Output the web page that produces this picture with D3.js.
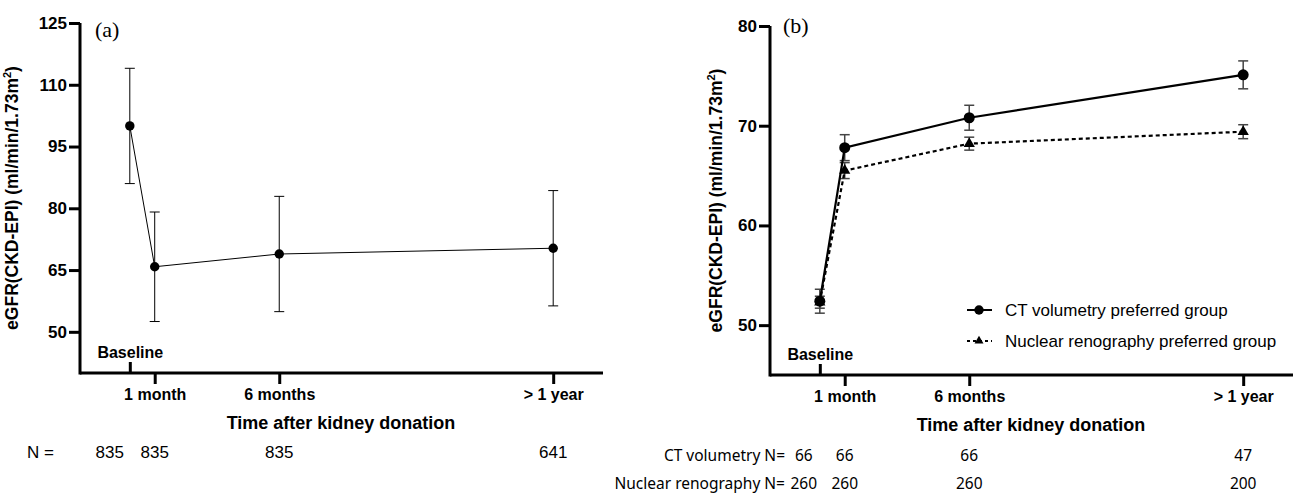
<!DOCTYPE html>
<html>
<head>
<meta charset="utf-8">
<script src="https://cdn.jsdelivr.net/npm/d3@7"></script>
<style>
  body { margin: 0; background: #fff; }
  svg { display: block; }
  text { font-family: "Liberation Sans", Arial, sans-serif; }
</style>
</head>
<body>
<svg id="chart" width="1304" height="495"></svg>
<script>
// time points (months after donation, "> 1 year" drawn at 17)
var timeLabels = ["Baseline", "1 month", "6 months", "> 1 year"];
var timeMonths = [0, 1, 6, 17];

// panel (a): all donors
var allMean = [100, 65.8, 68.9, 70.3];
var allErr = [14, 13.3, 14, 14];
var allN = [835, 835, 835, 641];

// panel (b): by preferred method
var ctMean = [52.4, 67.8, 70.8, 75.1];
var ctErr = [1.2, 1.3, 1.25, 1.4];
var ctN = [66, 66, 66, 47];
var nucMean = [52.3, 65.5, 68.2, 69.4];
var nucErr = [0.6, 0.8, 0.65, 0.7];
var nucN = [260, 260, 260, 200];

var ticksA = [50, 65, 80, 95, 110, 125];
var ticksB = [50, 60, 70, 80];

var svg = d3.select("#chart");

function makePanel(g, left, yDomain, yTicks, top, bottom, titleOff) {
    var x = d3.scaleLinear().domain([-2, 19]).range([left, left + 523]);
    var y = d3.scaleLinear().domain(yDomain).range([bottom, top]);

    var yAxis = g.append("g").attr("transform", "translate(" + left + ",0)")
        .call(d3.axisLeft(y).tickValues(yTicks).tickSize(11).tickSizeOuter(0).tickPadding(2));
    var xAxis = g.append("g").attr("transform", "translate(0," + bottom + ")")
        .call(d3.axisBottom(x).tickValues(timeMonths.slice(1)).tickSize(11).tickSizeOuter(0).tickPadding(5)
            .tickFormat(function (d) { return timeLabels[timeMonths.indexOf(d)]; }));
    var xBase = g.append("g").attr("transform", "translate(0," + bottom + ")")
        .call(d3.axisTop(x).tickValues([0]).tickSize(11).tickPadding(4)
            .tickFormat(function () { return timeLabels[0]; }));
    xBase.select(".domain").remove();

    [yAxis, xAxis, xBase].forEach(function (a) {
        a.selectAll("path,line").attr("stroke", "#000").attr("stroke-width", 3);
        a.selectAll("text").attr("fill", "#000").style("font-weight", "bold")
            .style("font-family", "'Liberation Sans', Arial, sans-serif");
    });
    yAxis.selectAll("text").style("font-size", "17px");
    xAxis.selectAll("text").style("font-size", "16px");
    xBase.selectAll("text").style("font-size", "16px");
    // axis lines meet at the corner
    yAxis.select(".domain").attr("d", "M0," + (bottom + 1.5) + "V" + top);
    xAxis.select(".domain").attr("d", "M" + left + ",0H" + (left + 523));

    g.append("text").attr("x", left + 261).attr("y", bottom + 56)
        .attr("text-anchor", "middle").style("font-size", "18px").style("font-weight", "bold")
        .text("Time after kidney donation");

    var yt = g.append("text").attr("transform", "translate(" + (left - titleOff) + "," + ((top + bottom) / 2) + ") rotate(-90)")
        .attr("text-anchor", "middle").style("font-size", "17.5px").style("font-weight", "bold");
    yt.append("tspan").text("eGFR(CKD-EPI) (ml/min/1.73m");
    yt.append("tspan").attr("dy", -7).style("font-size", "11px").text("2");
    yt.append("tspan").attr("dy", 7).text(")");

    return { x: x, y: y };
}

function drawSeries(g, sc, mean, err, opt) {
    var pts = timeMonths.map(function (m, i) { return { m: m, v: mean[i], e: err[i] }; });
    var line = d3.line().x(function (d) { return sc.x(d.m); }).y(function (d) { return sc.y(d.v); });
    var eb = g.append("g").attr("stroke", opt.errColor).attr("stroke-width", opt.errWidth).attr("fill", "none");
    pts.forEach(function (d) {
        var cx = sc.x(d.m);
        eb.append("line").attr("x1", cx).attr("x2", cx).attr("y1", sc.y(d.v + d.e)).attr("y2", sc.y(d.v - d.e));
        eb.append("line").attr("x1", cx - 5).attr("x2", cx + 5).attr("y1", sc.y(d.v + d.e)).attr("y2", sc.y(d.v + d.e));
        eb.append("line").attr("x1", cx - 5).attr("x2", cx + 5).attr("y1", sc.y(d.v - d.e)).attr("y2", sc.y(d.v - d.e));
    });
    g.append("path").datum(pts).attr("d", line).attr("fill", "none").attr("stroke", "#000")
        .attr("stroke-width", opt.lineWidth).attr("stroke-dasharray", opt.dash || null);
    g.selectAll(null).data(pts).enter().append("path")
        .attr("transform", function (d) { return "translate(" + sc.x(d.m) + "," + sc.y(d.v) + ")"; })
        .attr("d", d3.symbol().type(opt.symbol).size(opt.size))
        .attr("fill", "#000");
}

// ---- panel (a)
var gA = svg.append("g");
var scA = makePanel(gA, 80, [40, 125], ticksA, 23, 373, 62);
drawSeries(gA, scA, allMean, allErr, { errColor: "#000", errWidth: 1, lineWidth: 1, symbol: d3.symbolCircle, size: 70 });
gA.append("text").attr("x", 95).attr("y", 37).style("font-family", "'Liberation Serif', 'Times New Roman', serif")
    .style("font-size", "22px").text("(a)");
gA.append("text").attr("x", 27).attr("y", 458).style("font-size", "17px").text("N =");
gA.selectAll(null).data(allN).enter().append("text")
    .attr("x", function (d, i) { return scA.x(timeMonths[i]) + (i == 0 ? -20 : 0); })
    .attr("y", 458).attr("text-anchor", "middle").style("font-size", "17px")
    .text(function (d) { return d; });

// ---- panel (b)
var gB = svg.append("g");
var scB = makePanel(gB, 770, [45, 80], ticksB, 26, 375, 48);
drawSeries(gB, scB, nucMean, nucErr, { errColor: "#444", errWidth: 1.5, lineWidth: 2.2, dash: "4,3", symbol: d3.symbolTriangle, size: 55 });
drawSeries(gB, scB, ctMean, ctErr, { errColor: "#444", errWidth: 1.5, lineWidth: 2.2, symbol: d3.symbolCircle, size: 95 });
gB.append("text").attr("x", 783).attr("y", 33).style("font-family", "'Liberation Serif', 'Times New Roman', serif")
    .style("font-size", "22px").text("(b)");

// legend
var legend = [
    { name: "CT volumetry preferred group", dash: null, symbol: d3.symbolCircle, size: 70 },
    { name: "Nuclear renography preferred group", dash: "3,3", symbol: d3.symbolTriangle, size: 35 }
];
legend.forEach(function (l, i) {
    var ly = 310 + i * 31;
    gB.append("line").attr("x1", 967).attr("x2", 992).attr("y1", ly).attr("y2", ly)
        .attr("stroke", "#000").attr("stroke-width", 2).attr("stroke-dasharray", l.dash);
    gB.append("path").attr("transform", "translate(979," + ly + ")")
        .attr("d", d3.symbol().type(l.symbol).size(l.size)).attr("fill", "#000");
    gB.append("text").attr("x", 1005).attr("y", ly + 6).style("font-size", "17px").text(l.name);
});

// N rows
var nRows = [
    { label: "CT volumetry N=", vals: ctN, y: 461 },
    { label: "Nuclear renography N=", vals: nucN, y: 489 }
];
nRows.forEach(function (r) {
    gB.append("text").attr("x", 785).attr("y", r.y).attr("text-anchor", "end")
        .style("font-family", "'Noto Sans', sans-serif").style("font-size", "15.5px").text(r.label);
    gB.selectAll(null).data(r.vals).enter().append("text")
        .attr("x", function (d, i) { return scB.x(timeMonths[i]) + (i == 0 ? -16 : 0); })
        .attr("y", r.y).attr("text-anchor", "middle")
        .style("font-family", "'Noto Sans', sans-serif").style("font-size", "15.5px")
        .text(function (d) { return d; });
});
</script>
</body>
</html>
